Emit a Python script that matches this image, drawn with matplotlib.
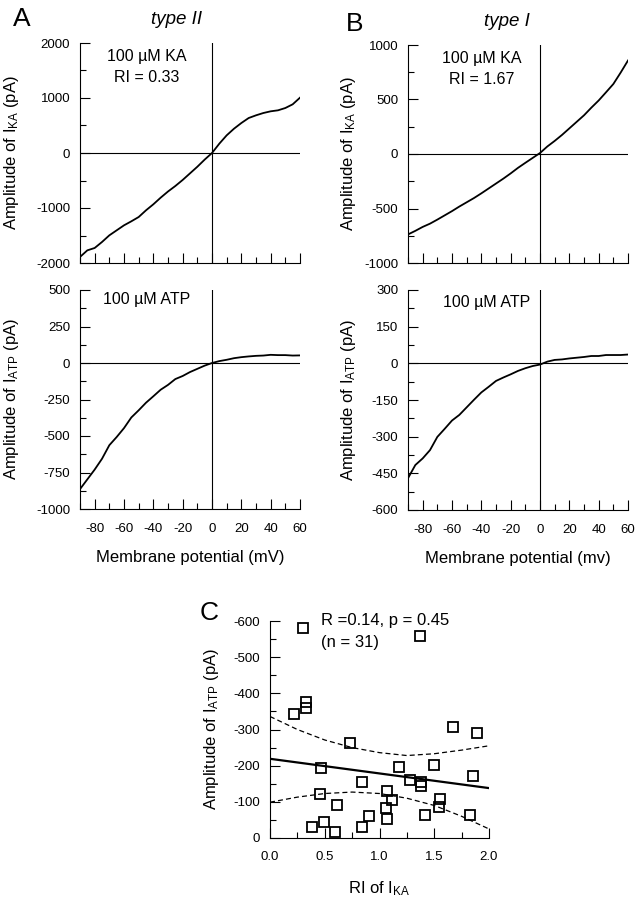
import matplotlib.pyplot as plt
import numpy as np
from matplotlib.ticker import MultipleLocator, FormatStrFormatter

plt.rcParams['font.family'] = ['Liberation Sans', 'DejaVu Sans']
plt.rcParams['mathtext.fontset'] = 'custom'
plt.rcParams['mathtext.rm'] = 'Liberation Sans'
plt.rcParams['mathtext.it'] = 'Liberation Sans:italic'
plt.rcParams['axes.unicode_minus'] = False

# membrane potential (mV) at which the traces were read
vm = [-90, -85, -80, -75, -70, -65, -60, -55, -50, -45, -40, -35, -30, -25, -20, -15,
      -10, -5, 0, 5, 10, 15, 20, 25, 30, 35, 40, 45, 50, 55, 60]

# A, type II
ka_type2 = [-1890, -1770, -1727, -1618, -1497, -1406, -1315, -1242, -1164, -1042, -933,
            -812, -700, -600, -490, -370, -250, -120, 0, 170, 321, 442, 545, 636, 685,
            727, 758, 776, 818, 885, 1006]
atp_type2 = [-864, -797, -730, -656, -563, -507, -446, -373, -324, -272, -228, -183, -150,
             -110, -89, -62, -40, -18, 0, 13, 22, 33, 40, 45, 49, 51, 56, 54, 54, 51, 52]

# B, type I
ka_type1 = [-738, -705, -669, -639, -602, -563, -524, -482, -443, -404, -361, -316, -271,
            -226, -178, -127, -81, -36, 9, 69, 120, 175, 235, 295, 355, 425, 491, 566,
            642, 747, 858]
atp_type1 = [-470, -416, -389, -355, -301, -268, -234, -211, -180, -149, -119, -96, -72,
             -58, -45, -31, -20, -11, -5, 7, 14, 16, 20, 23, 26, 30, 30, 34, 34, 34, 36]

# C, scatter
ri_ka = [0.30, 1.37, 0.33, 0.33, 0.22, 1.67, 1.89, 0.73, 0.47, 1.18, 1.50, 1.85, 1.28,
         1.38, 1.38, 0.84, 1.07, 1.11, 0.46, 1.55, 1.54, 0.61, 1.06, 0.90, 1.42, 1.83,
         1.07, 0.49, 0.38, 0.84, 0.59]
amp_atp = [-582, -559, -375, -359, -344, -308, -290, -264, -193, -196, -201, -172, -161,
           -156, -143, -155, -131, -106, -121, -108, -86, -92, -82, -62, -63, -64, -52,
           -44, -30, -30, -17]

# regression line and confidence band
fit_x = [0.0, 2.0]
fit_y = [-219, -138]
band_x = [0.0, 0.25, 0.5, 0.75, 1.0, 1.25, 1.5, 1.75, 2.0]
band_hi = [-336, -300, -271, -250, -236, -228, -233, -243, -255]
band_lo = [-99, -113, -123, -127, -123, -110, -90, -60, -25]

W, H = 639, 900
fig = plt.figure(figsize=(W / 100, H / 100), dpi=100)


def add_ax(left, top, right, bottom):
    return fig.add_axes([left / W, 1 - bottom / H, (right - left) / W, (bottom - top) / H])


def style(ax):
    for s in ['top', 'right']:
        ax.spines[s].set_visible(False)
    for s in ['left', 'bottom']:
        ax.spines[s].set_linewidth(0.8)
    ax.tick_params(which='major', direction='in', length=7, width=0.8, labelsize=9.5)
    ax.tick_params(which='minor', direction='in', length=4.3, width=0.8)
    ax.tick_params(axis='y', which='major', pad=7)
    ax.tick_params(axis='x', which='major', pad=10)


def iv_panel(ax, y, ylo, yhi, ystep, label, show_x, xlabel=None):
    style(ax)
    ax.plot(vm, y, color='black', lw=1.3)
    ax.axhline(0, color='black', lw=0.8)
    ax.axvline(0, color='black', lw=0.8)
    ax.set_xlim(-90, 60)
    ax.set_ylim(ylo, yhi)
    ax.set_xticks(np.arange(-80, 61, 20))
    ax.xaxis.set_minor_locator(MultipleLocator(10))
    ax.yaxis.set_major_locator(MultipleLocator(ystep))
    ax.yaxis.set_minor_locator(MultipleLocator(ystep / 2))
    ax.set_ylabel(label, fontsize=12)
    if not show_x:
        ax.tick_params(labelbottom=False)
    else:
        ax.set_xlabel(xlabel, fontsize=12, labelpad=11)


axA1 = add_ax(80, 43, 300, 263)
iv_panel(axA1, ka_type2, -2000, 2000, 1000, r'Amplitude of I$_{\mathrm{KA}}$ (pA)', False)
axA1.yaxis.set_label_coords(-0.27, 0.5)
axA2 = add_ax(80, 290, 300, 509)
iv_panel(axA2, atp_type2, -1000, 500, 250, r'Amplitude of I$_{\mathrm{ATP}}$ (pA)', True,
         'Membrane potential (mV)')
axA2.yaxis.set_label_coords(-0.27, 0.5)

axB1 = add_ax(408, 45, 628, 263)
iv_panel(axB1, ka_type1, -1000, 1000, 500, r'Amplitude of I$_{\mathrm{KA}}$ (pA)', False)
axB1.yaxis.set_label_coords(-0.225, 0.5)
axB2 = add_ax(408, 290, 628, 510)
iv_panel(axB2, atp_type1, -600, 300, 150, r'Amplitude of I$_{\mathrm{ATP}}$ (pA)', True,
         'Membrane potential (mv)')
axB2.yaxis.set_label_coords(-0.225, 0.5)

# panel text
fig.text(13 / W, 1 - 19 / H, 'A', fontsize=19, va='center')
fig.text(177 / W, 1 - 20 / H, 'type II', fontsize=13.5, style='italic', ha='center', va='center')
fig.text(147 / W, 1 - 57 / H, '100 µM KA', fontsize=11.5, ha='center', va='center')
fig.text(147 / W, 1 - 78 / H, 'RI = 0.33', fontsize=11.5, ha='center', va='center')
fig.text(147 / W, 1 - 300 / H, '100 µM ATP', fontsize=11.5, ha='center', va='center')

fig.text(346 / W, 1 - 24 / H, 'B', fontsize=19, va='center')
fig.text(507 / W, 1 - 21 / H, 'type I', fontsize=13.5, style='italic', ha='center', va='center')
fig.text(482 / W, 1 - 58 / H, '100 µM KA', fontsize=11.5, ha='center', va='center')
fig.text(482 / W, 1 - 79 / H, 'RI = 1.67', fontsize=11.5, ha='center', va='center')
fig.text(487 / W, 1 - 302 / H, '100 µM ATP', fontsize=11.5, ha='center', va='center')

# C
axC = add_ax(270, 621, 489, 838)
style(axC)
axC.plot(ri_ka, amp_atp, linestyle='none', marker='s', markersize=7.8,
         markerfacecolor='none', markeredgecolor='black', markeredgewidth=1.3)
axC.plot(fit_x, fit_y, color='black', lw=1.6)
axC.plot(band_x, band_hi, color='black', lw=0.9, dashes=(4, 2.5))
axC.plot(band_x, band_lo, color='black', lw=0.9, dashes=(4, 2.5))
axC.set_xlim(0, 2.0)
axC.set_ylim(0, -600)
axC.xaxis.set_major_locator(MultipleLocator(0.5))
axC.xaxis.set_minor_locator(MultipleLocator(0.25))
axC.xaxis.set_major_formatter(FormatStrFormatter('%.1f'))
axC.yaxis.set_major_locator(MultipleLocator(100))
axC.yaxis.set_minor_locator(MultipleLocator(50))
axC.tick_params(axis='x', which='major', pad=9)
axC.set_ylabel(r'Amplitude of I$_{\mathrm{ATP}}$ (pA)', fontsize=12)
axC.yaxis.set_label_coords(-0.225, 0.5)
axC.set_xlabel(r'RI of I$_{\mathrm{KA}}$', fontsize=12, labelpad=12)
fig.text(200 / W, 1 - 613 / H, 'C', fontsize=19, va='center')
fig.text(321 / W, 1 - 621 / H, 'R =0.14, p = 0.45', fontsize=12, va='center')
fig.text(321 / W, 1 - 642 / H, '(n = 31)', fontsize=12, va='center')

fig.savefig('out.png', dpi=100)
